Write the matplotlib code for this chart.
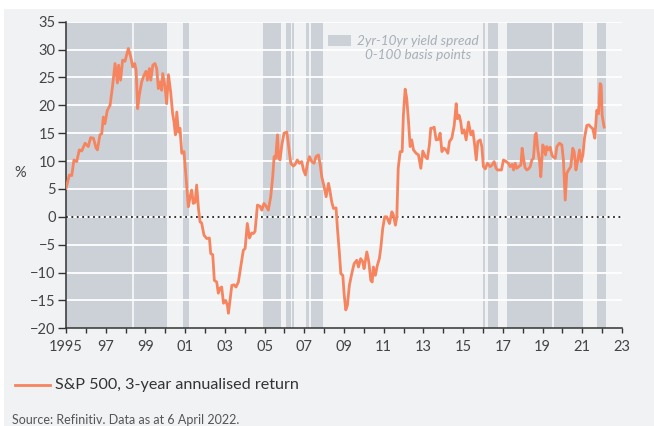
import matplotlib
matplotlib.use("Agg")
import matplotlib.pyplot as plt
from matplotlib.patches import Rectangle
from matplotlib.lines import Line2D

plt.rcParams['font.family'] = ['Lato', 'DejaVu Sans']

# S&P 500 3-year annualised return (%)
years = [
    1995.00, 1995.17, 1995.29, 1995.40, 1995.54, 1995.67, 1995.79, 1995.96,
    1996.12, 1996.24, 1996.38, 1996.51, 1996.58, 1996.71, 1996.80, 1996.88,
    1996.96, 1997.08, 1997.22, 1997.35, 1997.47, 1997.59, 1997.65, 1997.75,
    1997.85, 1997.97, 1998.14, 1998.26, 1998.36, 1998.46, 1998.53, 1998.61,
    1998.69, 1998.81, 1998.93, 1999.03, 1999.10, 1999.20, 1999.27, 1999.37,
    1999.48, 1999.57, 1999.65, 1999.74, 1999.82, 1999.87, 1999.99, 2000.07,
    2000.16, 2000.27, 2000.37, 2000.44, 2000.51, 2000.58, 2000.66, 2000.74,
    2000.83, 2000.94, 2001.05, 2001.16, 2001.25, 2001.33, 2001.41, 2001.50,
    2001.58, 2001.67, 2001.75, 2001.83, 2001.95, 2002.09, 2002.22, 2002.29,
    2002.39, 2002.47, 2002.59, 2002.67, 2002.76, 2002.84, 2002.93, 2003.04,
    2003.13, 2003.18, 2003.26, 2003.35, 2003.46, 2003.56, 2003.68, 2003.80,
    2003.93, 2004.02, 2004.13, 2004.24, 2004.35, 2004.44, 2004.52, 2004.64,
    2004.77, 2004.86, 2004.97, 2005.08, 2005.19, 2005.31, 2005.41, 2005.48,
    2005.56, 2005.65, 2005.71, 2005.78, 2005.87, 2005.98, 2006.12, 2006.20,
    2006.32, 2006.45, 2006.54, 2006.65, 2006.75, 2006.87, 2006.96, 2007.06,
    2007.16, 2007.26, 2007.38, 2007.49, 2007.59, 2007.71, 2007.80, 2007.88,
    2008.00, 2008.10, 2008.22, 2008.30, 2008.38, 2008.47, 2008.60, 2008.67,
    2008.77, 2008.84, 2008.94, 2009.01, 2009.09, 2009.17, 2009.27, 2009.39,
    2009.51, 2009.64, 2009.73, 2009.84, 2009.95, 2010.01, 2010.15, 2010.25,
    2010.35, 2010.42, 2010.48, 2010.58, 2010.68, 2010.78, 2010.85, 2010.95,
    2011.05, 2011.15, 2011.29, 2011.41, 2011.49, 2011.59, 2011.66, 2011.73,
    2011.83, 2011.93, 2011.99, 2012.08, 2012.16, 2012.25, 2012.33, 2012.41,
    2012.50, 2012.63, 2012.75, 2012.87, 2012.97, 2013.09, 2013.20, 2013.30,
    2013.37, 2013.47, 2013.54, 2013.64, 2013.76, 2013.84, 2013.93, 2014.04,
    2014.14, 2014.23, 2014.31, 2014.43, 2014.55, 2014.65, 2014.71, 2014.80,
    2014.88, 2014.95, 2015.05, 2015.15, 2015.27, 2015.39, 2015.49, 2015.57,
    2015.66, 2015.74, 2015.86, 2015.94, 2016.02, 2016.12, 2016.22, 2016.36,
    2016.46, 2016.56, 2016.66, 2016.73, 2016.93, 2017.03, 2017.17, 2017.28,
    2017.37, 2017.47, 2017.54, 2017.62, 2017.70, 2017.80, 2017.91, 2017.97,
    2018.04, 2018.12, 2018.21, 2018.29, 2018.38, 2018.46, 2018.54, 2018.63,
    2018.68, 2018.76, 2018.85, 2018.91, 2019.01, 2019.08, 2019.15, 2019.21,
    2019.30, 2019.38, 2019.47, 2019.52, 2019.64, 2019.72, 2019.85, 2019.97,
    2020.05, 2020.14, 2020.22, 2020.31, 2020.42, 2020.52, 2020.59, 2020.68,
    2020.76, 2020.86, 2020.94, 2021.03, 2021.11, 2021.23, 2021.33, 2021.43,
    2021.53, 2021.63, 2021.73, 2021.82, 2021.90, 2021.95, 2022.00, 2022.10,
]
sp500_3y = [
    5.1, 7.5, 7.4, 10.2, 9.9, 12.0, 11.8, 13.2,
    12.6, 14.2, 14.1, 12.4, 12.0, 14.7, 14.9, 17.9,
    16.7, 19.1, 20.0, 23.6, 27.5, 24.0, 27.2, 24.5,
    28.1, 27.9, 30.2, 28.7, 26.9, 27.5, 26.3, 19.4,
    21.8, 24.2, 25.4, 26.1, 24.5, 26.6, 24.5, 27.2,
    27.5, 26.6, 23.0, 24.2, 22.7, 25.7, 23.3, 20.3,
    25.5, 22.4, 18.5, 17.0, 14.7, 18.8, 15.2, 15.9,
    11.4, 11.7, 6.9, 1.8, 3.6, 4.8, 2.4, 2.6,
    5.7, 1.5, -0.9, -1.1, -3.3, -3.9, -3.8, -6.6,
    -6.8, -11.4, -11.7, -13.7, -12.8, -12.6, -15.5, -15.0,
    -15.9, -17.3, -14.9, -12.3, -12.2, -12.6, -11.7, -9.0,
    -6.0, -5.7, -1.2, -3.8, -2.9, -3.0, -2.6, 2.1,
    1.9, 1.2, 2.4, 1.9, 1.2, 3.6, 7.2, 10.8,
    10.5, 14.7, 10.5, 10.2, 12.9, 15.0, 15.2, 12.9,
    9.6, 9.1, 9.4, 10.2, 9.6, 9.9, 8.4, 7.5,
    9.6, 10.8, 9.9, 9.6, 10.8, 11.1, 9.4, 7.2,
    5.4, 3.6, 6.0, 4.5, 2.7, 1.5, 1.6, -2.1,
    -6.6, -10.2, -10.5, -14.0, -16.7, -15.9, -12.3, -10.2,
    -8.4, -7.8, -9.0, -7.5, -8.1, -9.3, -6.3, -8.1,
    -11.4, -11.7, -9.0, -10.5, -8.7, -7.5, -5.7, -2.1,
    0.0, 0.0, -1.2, 0.9, 0.3, -1.5, 0.0, 8.7,
    11.7, 11.7, 18.2, 22.9, 21.2, 17.0, 12.6, 13.8,
    12.0, 11.4, 11.1, 8.7, 11.8, 10.8, 10.4, 12.9,
    15.9, 15.9, 16.1, 13.8, 13.9, 15.0, 11.7, 12.3,
    12.0, 11.4, 13.5, 14.1, 16.4, 20.3, 17.6, 18.2,
    17.0, 15.0, 15.6, 13.8, 17.0, 14.7, 15.4, 13.2,
    10.2, 13.5, 13.8, 12.6, 9.0, 8.6, 9.6, 9.0,
    9.3, 9.9, 8.7, 8.4, 8.4, 10.2, 9.9, 9.6,
    9.0, 9.4, 8.4, 9.6, 8.7, 9.0, 9.3, 12.3,
    10.5, 8.8, 8.4, 8.6, 9.0, 10.2, 10.5, 14.7,
    15.0, 12.0, 9.9, 7.2, 12.9, 12.3, 11.1, 12.6,
    12.0, 12.5, 11.1, 10.8, 10.5, 12.6, 13.2, 12.9,
    10.2, 3.0, 7.8, 8.4, 9.0, 12.3, 11.7, 8.4,
    9.9, 12.0, 9.9, 11.1, 14.1, 16.4, 16.5, 16.1,
    15.8, 14.1, 19.1, 18.5, 23.9, 23.6, 18.2, 16.1,
]

# periods when the 2yr-10yr spread was between 0 and 100 bp
spread_start = [1995.00, 1998.40, 2000.89, 2004.94, 2006.08, 2006.39, 2007.09,
                2007.33, 2016.02, 2016.26, 2017.22, 2019.56, 2021.75]
spread_end = [1998.33, 2000.07, 2001.18, 2005.83, 2006.33, 2006.47, 2007.23,
              2007.95, 2016.09, 2016.76, 2019.49, 2021.05, 2022.20]

x_ticks = list(range(1995, 2024, 2))
x_labels = ['1995'] + [str(y)[2:] for y in x_ticks[1:]]
y_ticks = list(range(-20, 36, 5))

bg = '#f1f2f4'
shade = '#cbd1d7'
orange = '#f5845f'
dark = '#333333'

fig = plt.figure(figsize=(6.54, 4.26), dpi=100, facecolor='white')
fig.patches.append(Rectangle((4 / 654, 0), 1, 1 - 9 / 426, transform=fig.transFigure,
                             facecolor=bg, edgecolor='none', zorder=-10))

ax = fig.add_axes([66 / 654, 1 - 328.3 / 426, 556 / 654, 306.6 / 426])
ax.set_facecolor(bg)

for s, e in zip(spread_start, spread_end):
    ax.axvspan(s, e, color=shade, lw=0, zorder=1)

for y in y_ticks[1:]:
    ax.axhline(y, color='white', lw=1.3, zorder=2)

ax.axhline(0, color='#222222', lw=1.3, ls=(0, (1, 2)), zorder=3)
ax.plot(years, sp500_3y, color=orange, lw=2.0, zorder=4, solid_joinstyle='round')

ax.set_xlim(1995, 2023)
ax.set_ylim(-20, 35)
ax.set_xticks(x_ticks)
ax.set_xticklabels(x_labels)
ax.set_xticks(range(1995, 2024), minor=True)
ax.set_yticks(y_ticks)

for side in ['top', 'right']:
    ax.spines[side].set_visible(False)
for side in ['left', 'bottom']:
    ax.spines[side].set_color(dark)
    ax.spines[side].set_linewidth(1.1)

ax.tick_params(axis='x', which='both', length=3.5, width=1, color=dark,
               labelsize=10.5, labelcolor='#444444', pad=5)
ax.tick_params(axis='y', length=6, width=1, color=dark,
               labelsize=10.5, labelcolor='#444444', pad=1.5)

fig.text(20 / 654, 1 - 173 / 426, '%', fontsize=10.5, color='#444444',
         ha='center', va='center')

# shading legend inside the plot
fig.patches.append(Rectangle((328 / 654, 1 - 46 / 426), 23 / 654, 11 / 426,
                             transform=fig.transFigure, facecolor=shade,
                             edgecolor='none', zorder=5))
fig.text(418 / 654, 1 - 48 / 426, '2yr-10yr yield spread\n0-100 basis points',
         fontsize=9.8, style='italic', color='#a8afb7', ha='center', va='center',
         linespacing=1.25)

# line legend below the plot
fig.lines.append(Line2D([15 / 654, 50 / 654], [1 - 385 / 426, 1 - 385 / 426],
                        transform=fig.transFigure, color=orange, lw=2.0))
fig.text(55 / 654, 1 - 385 / 426, 'S&P 500, 3-year annualised return',
         fontsize=11.6, color=dark, ha='left', va='center')

fig.text(12 / 654, 1 - 420 / 426, 'Source: Refinitiv. Data as at 6 April 2022.',
         fontsize=9, color='#555555', ha='left', va='center')

fig.savefig('out.png', dpi=100, facecolor=fig.get_facecolor())
